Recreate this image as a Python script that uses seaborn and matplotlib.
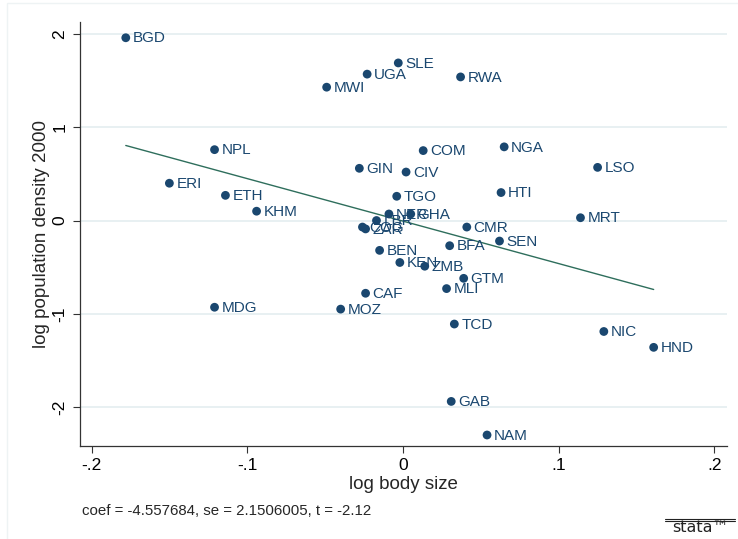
import numpy as np
import pandas as pd
import matplotlib
matplotlib.use("Agg")
import matplotlib.pyplot as plt
import seaborn as sns
from matplotlib.patches import Rectangle
from matplotlib.lines import Line2D

# values
countries = ["BGD", "SLE", "UGA", "RWA", "MWI", "NPL", "NGA", "COM", "LSO", "GIN",
             "CIV", "ERI", "HTI", "ETH", "TGO", "KHM", "MRT", "NER", "GHA", "LBR",
             "COG", "ZAR", "CMR", "SEN", "BEN", "BFA", "KEN", "ZMB", "GTM", "MLI",
             "CAF", "MDG", "MOZ", "TCD", "NIC", "HND", "GAB", "NAM"]
body_size = [-0.178, -0.003, -0.023, 0.037, -0.049, -0.121, 0.065, 0.013, 0.125, -0.028,
             0.002, -0.150, 0.063, -0.114, -0.004, -0.094, 0.114, -0.009, 0.005, -0.017,
             -0.026, -0.024, 0.041, 0.062, -0.015, 0.030, -0.002, 0.014, 0.039, 0.028,
             -0.024, -0.121, -0.040, 0.033, 0.129, 0.161, 0.031, 0.054]
pop_density = [1.96, 1.69, 1.57, 1.54, 1.43, 0.76, 0.79, 0.75, 0.57, 0.56,
               0.52, 0.40, 0.30, 0.27, 0.26, 0.10, 0.03, 0.07, 0.07, 0.00,
               -0.07, -0.09, -0.07, -0.22, -0.32, -0.27, -0.45, -0.49, -0.62, -0.73,
               -0.78, -0.93, -0.95, -1.11, -1.19, -1.36, -1.94, -2.30]

x_ticks = [-0.2, -0.1, 0, 0.1, 0.2]
x_tick_labels = ["-.2", "-.1", "0", ".1", ".2"]
y_ticks = [-2, -1, 0, 1, 2]
y_tick_labels = ["-2", "-1", "0", "1", "2"]
note = "coef = -4.557684, se = 2.1506005, t = -2.12"

df = pd.DataFrame({"country": countries, "x": body_size, "y": pop_density})

sns.set_style("white")
plt.rcParams["font.family"] = ["Liberation Sans", "DejaVu Sans"]

navy = "#1a476f"
green = "#2e6e5c"

fig = plt.figure(figsize=(7.38, 5.39), dpi=100)
ax = fig.add_axes([80 / 738, 1 - 446 / 539, 647 / 738, 424 / 539])

ax.set_xlim(-0.2074, 0.2081)
ax.set_ylim(-2.418, 2.129)
ax.set_yticks(y_ticks)
ax.yaxis.grid(True, color="#e8f0f2", linewidth=1.4)
ax.set_axisbelow(True)

sns.regplot(data=df, x="x", y="y", scatter=False, ci=None, ax=ax,
            line_kws={"color": green, "linewidth": 1.0})
sns.scatterplot(data=df, x="x", y="y", ax=ax, color=navy, s=40,
                edgecolor="none", zorder=3)

for _, r in df.iterrows():
    ax.annotate(r["country"], (r["x"], r["y"]), xytext=(5, -0.5),
                textcoords="offset points", va="center", ha="left",
                fontsize=11, color=navy, zorder=4)

ax.set_xticks(x_ticks)
ax.set_xticklabels(x_tick_labels)
ax.set_yticks(y_ticks)
ax.set_yticklabels(y_tick_labels, rotation=90, va="center")
ax.tick_params(axis="both", direction="out", length=5, width=0.8,
               color="#333333", labelsize=12.5, labelcolor="black", pad=4,
               left=True, bottom=True)

for side in ["top", "right"]:
    ax.spines[side].set_visible(False)
for side in ["left", "bottom"]:
    ax.spines[side].set_color("#333333")
    ax.spines[side].set_linewidth(0.9)

ax.set_xlabel("log body size", fontsize=13.5, labelpad=2)
ax.set_ylabel("log population density 2000", fontsize=13.5, labelpad=1.5)

fig.text(82 / 738, 1 - 511 / 539, note, fontsize=10.8, va="center", ha="left")

# stata badge
fig.text(700 / 738, 1 - 528 / 539, "stata™", fontsize=11.5,
         va="center", ha="center", color="#222222", family="DejaVu Sans")
fig.add_artist(Line2D([665 / 738, 735 / 738], [1 - 519 / 539, 1 - 519 / 539],
                      color="#222222", linewidth=0.8))
fig.add_artist(Line2D([665 / 738, 735 / 738], [1 - 521 / 539, 1 - 521 / 539],
                      color="#222222", linewidth=0.8))

# faint outer frame
fig.add_artist(Rectangle((7 / 738, -0.1), 1.0, 1.1 - 3 / 539,
                         transform=fig.transFigure, fill=False,
                         edgecolor="#eef3f4", linewidth=1.0))

fig.savefig("out.png", dpi=100)
